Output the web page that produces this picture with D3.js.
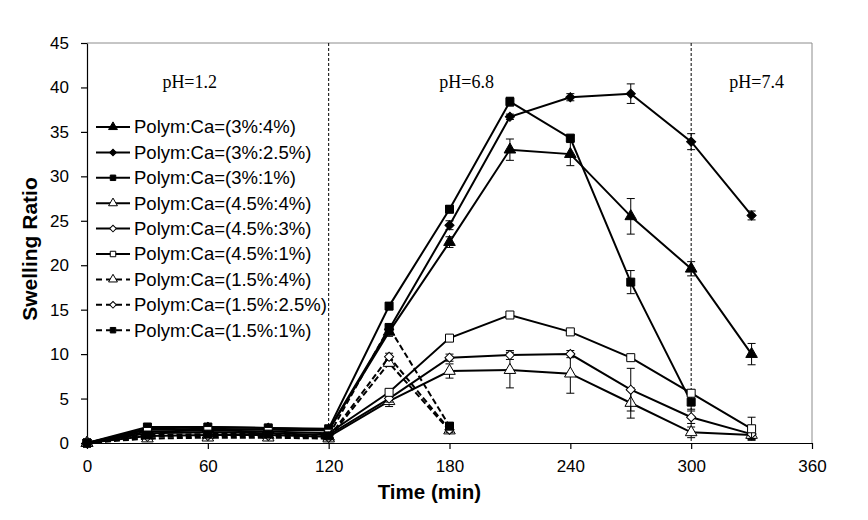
<!DOCTYPE html>
<html>
<head>
<meta charset="utf-8">
<script src="https://cdn.jsdelivr.net/npm/d3@7"></script>
<style>
  body { margin: 0; background: #fff; }
  svg { display: block; }
</style>
</head>
<body>
<svg id="chart" width="868" height="520"></svg>
<script>
// data
const times = [0, 30, 60, 90, 120, 150, 180, 210, 240, 270, 300, 330];
const xTicks = [0, 60, 120, 180, 240, 300, 360];
const yTicks = [0, 5, 10, 15, 20, 25, 30, 35, 40, 45];

const labels = [
  "Polym:Ca=(3%:4%)", "Polym:Ca=(3%:2.5%)", "Polym:Ca=(3%:1%)",
  "Polym:Ca=(4.5%:4%)", "Polym:Ca=(4.5%:3%)", "Polym:Ca=(4.5%:1%)",
  "Polym:Ca=(1.5%:4%)", "Polym:Ca=(1.5%:2.5%)", "Polym:Ca=(1.5%:1%)"
];

const s3_4   = [0, 1.5, 1.6, 1.5, 1.4, 12.5, 22.6, 33.0, 32.5, 25.5, 19.6, 10.0];
const s3_25  = [0, 1.6, 1.8, 1.7, 1.5, 12.8, 24.5, 36.7, 38.9, 39.3, 33.9, 25.6];
const s3_1   = [0, 1.8, 1.8, 1.7, 1.6, 15.4, 26.3, 38.4, 34.3, 18.1, 4.6];
const s45_4  = [0, 0.8, 0.9, 0.9, 0.7, 4.7, 8.1, 8.2, 7.8, 4.5, 1.2, 0.9];
const s45_3  = [0, 1.1, 1.2, 1.1, 0.9, 5.0, 9.6, 9.9, 10.0, 6.0, 2.9, 1.0];
const s45_1  = [0, 1.3, 1.4, 1.3, 1.1, 5.7, 11.8, 14.4, 12.5, 9.6, 5.6, 1.6];
const s15_4  = [0, 0.5, 0.6, 0.6, 0.5, 9.0, 1.4];
const s15_25 = [0, 0.7, 0.8, 0.8, 0.6, 9.7, 1.5];
const s15_1  = [0, 0.9, 1.0, 1.0, 0.8, 13.0, 1.9];

// error bars (+/-)
const e3_4   = [0.1, 0.2, 0.2, 0.2, 0.2, 0.5, 0.6, 1.2, 1.3, 2.0, 0.8, 1.2];
const e3_25  = [0.1, 0.2, 0.2, 0.2, 0.2, 0.4, 0.5, 0.3, 0.4, 1.1, 0.9, 0.5];
const e3_1   = [0.1, 0.2, 0.2, 0.2, 0.2, 0.4, 0.4, 0.5, 0.3, 1.3, 0.8];
const e45_4  = [0.1, 0.3, 0.3, 0.3, 0.3, 0.6, 0.8, 2.0, 2.2, 1.7, 0.6, 0.5];
const e45_3  = [0.1, 0.2, 0.2, 0.2, 0.2, 0.4, 0.4, 0.5, 0.4, 2.4, 0.7, 0.5];
const e45_1  = [0.1, 0.2, 0.2, 0.2, 0.2, 0.3, 0.3, 0.2, 0.2, 0.2, 0.4, 1.3];
const e15_4  = [0.1, 0.2, 0.2, 0.2, 0.2, 0.4, 0.3];
const e15_25 = [0.1, 0.2, 0.2, 0.2, 0.2, 0.4, 0.3];
const e15_1  = [0.1, 0.2, 0.2, 0.2, 0.2, 0.4, 0.4];

const phLabels = [
  { t: 51, v: 39.9, text: "pH=1.2" },
  { t: 188.5, v: 39.9, text: "pH=6.8" },
  { t: 332.5, v: 39.9, text: "pH=7.4" }
];
const phBounds = [120, 300];

const series = [
  { name: labels[0], vals: s3_4,   err: e3_4,   shape: "tri", fill: true,  dash: false },
  { name: labels[1], vals: s3_25,  err: e3_25,  shape: "dia", fill: true,  dash: false },
  { name: labels[2], vals: s3_1,   err: e3_1,   shape: "sq",  fill: true,  dash: false },
  { name: labels[3], vals: s45_4,  err: e45_4,  shape: "tri", fill: false, dash: false },
  { name: labels[4], vals: s45_3,  err: e45_3,  shape: "dia", fill: false, dash: false },
  { name: labels[5], vals: s45_1,  err: e45_1,  shape: "sq",  fill: false, dash: false },
  { name: labels[6], vals: s15_4,  err: e15_4,  shape: "tri", fill: false, dash: true },
  { name: labels[7], vals: s15_25, err: e15_25, shape: "dia", fill: false, dash: true },
  { name: labels[8], vals: s15_1,  err: e15_1,  shape: "sq",  fill: true,  dash: true }
];

const svg = d3.select("#chart");
const margin = { top: 43, right: 56, bottom: 77, left: 87 };
const width = 868 - margin.left - margin.right;
const height = 520 - margin.top - margin.bottom;

const x = d3.scaleLinear().domain([0, 360]).range([0, width]);
const y = d3.scaleLinear().domain([0, 45]).range([height, 0]);

const g = svg.append("g").attr("transform", `translate(${margin.left},${margin.top})`);

// frame (top + right, grey)
g.append("path")
  .attr("d", `M0,0H${width}V${height}`)
  .attr("fill", "none")
  .attr("stroke", "#8c8c8c")
  .attr("stroke-width", 1);

// pH boundaries
g.selectAll(".ph-line")
  .data(phBounds)
  .enter()
  .append("line")
  .attr("x1", d => x(d)).attr("x2", d => x(d))
  .attr("y1", 0).attr("y2", height)
  .attr("stroke", "#000")
  .attr("stroke-width", 1)
  .attr("stroke-dasharray", "3,2");

g.selectAll(".ph-label")
  .data(phLabels)
  .enter()
  .append("text")
  .attr("x", d => x(d.t))
  .attr("y", d => y(d.v))
  .attr("text-anchor", "middle")
  .attr("font-family", "'Liberation Serif', 'Times New Roman', serif")
  .attr("font-size", 18)
  .text(d => d.text);

// axes
const xAxis = g.append("g")
  .attr("transform", `translate(0,${height})`)
  .call(d3.axisBottom(x).tickValues(xTicks).tickSize(6).tickSizeOuter(0));
const yAxis = g.append("g")
  .call(d3.axisLeft(y).tickValues(yTicks).tickSize(6).tickSizeOuter(0));

[xAxis, yAxis].forEach(a => {
  a.select(".domain").attr("stroke", "#000").attr("stroke-width", 1.2);
  a.selectAll(".tick line").attr("stroke", "#000").attr("stroke-width", 1.2);
  a.selectAll(".tick text")
    .attr("font-family", "'Liberation Sans', Arial, sans-serif")
    .attr("font-size", 17)
    .attr("fill", "#000");
});
xAxis.selectAll(".tick text").attr("dy", "1.2em");
yAxis.selectAll(".tick text").attr("x", -18);

svg.append("text")
  .attr("x", margin.left + x(170))
  .attr("y", 499)
  .attr("text-anchor", "middle")
  .attr("font-family", "'Liberation Sans', Arial, sans-serif")
  .attr("font-weight", "bold")
  .attr("font-size", 20.5)
  .text("Time (min)");

svg.append("text")
  .attr("transform", "translate(37,249) rotate(-90)")
  .attr("text-anchor", "middle")
  .attr("font-family", "'Liberation Sans', Arial, sans-serif")
  .attr("font-weight", "bold")
  .attr("font-size", 21)
  .text("Swelling Ratio");

// markers
function symbolPath(shape) {
  if (shape === "tri") return d3.symbol().type(d3.symbolTriangle).size(58)();
  if (shape === "dia") return d3.symbol().type(d3.symbolSquare).size(42)();
  return d3.symbol().type(d3.symbolSquare).size(64)();
}
function symbolRotate(shape) {
  return shape === "dia" ? " rotate(45)" : "";
}

const line = d3.line()
  .x((d, i) => x(times[i]))
  .y(d => y(d));

series.forEach(s => {
  const sg = g.append("g");
  const pts = s.vals.map((v, i) => ({ t: times[i], v: v, e: s.err[i] }));

  // error bars
  const eb = sg.selectAll(".err").data(pts).enter().append("g");
  eb.append("line")
    .attr("x1", d => x(d.t)).attr("x2", d => x(d.t))
    .attr("y1", d => y(d.v + d.e)).attr("y2", d => y(d.v - d.e))
    .attr("stroke", "#000").attr("stroke-width", 1);
  eb.selectAll(".cap")
    .data(d => [d.v + d.e, d.v - d.e].map(v => ({ t: d.t, v: v })))
    .enter().append("line")
    .attr("x1", d => x(d.t) - 4).attr("x2", d => x(d.t) + 4)
    .attr("y1", d => y(d.v)).attr("y2", d => y(d.v))
    .attr("stroke", "#000").attr("stroke-width", 1);

  sg.append("path")
    .datum(s.vals)
    .attr("d", line)
    .attr("fill", "none")
    .attr("stroke", "#000")
    .attr("stroke-width", 2)
    .attr("stroke-dasharray", s.dash ? "6,3" : null);

  sg.selectAll(".mk").data(pts).enter().append("path")
    .attr("d", symbolPath(s.shape))
    .attr("transform", d => `translate(${x(d.t)},${y(d.v)})${symbolRotate(s.shape)}`)
    .attr("fill", s.fill ? "#000" : "#fff")
    .attr("stroke", "#000")
    .attr("stroke-width", 1);
});

// legend
const legend = g.append("g").attr("transform", "translate(9,84)");
const items = legend.selectAll(".item").data(series).enter().append("g")
  .attr("transform", (d, i) => `translate(0,${i * 25.4})`);
items.append("line")
  .attr("x1", 0).attr("x2", 34).attr("y1", 0).attr("y2", 0)
  .attr("stroke", "#000").attr("stroke-width", 2)
  .attr("stroke-dasharray", d => d.dash ? "6,4" : null);
items.append("path")
  .attr("d", d => d.shape === "tri" ? d3.symbol().type(d3.symbolTriangle).size(34)()
    : d.shape === "dia" ? d3.symbol().type(d3.symbolSquare).size(22)()
    : d3.symbol().type(d3.symbolSquare).size(30)())
  .attr("transform", d => `translate(17,0)${symbolRotate(d.shape)}`)
  .attr("fill", d => d.fill ? "#000" : "#fff")
  .attr("stroke", "#000").attr("stroke-width", 1);
items.append("text")
  .attr("x", 38).attr("y", 0).attr("dy", "0.35em")
  .attr("font-family", "'Liberation Sans', Arial, sans-serif")
  .attr("font-size", 18.5)
  .text(d => d.name);
</script>
</body>
</html>
